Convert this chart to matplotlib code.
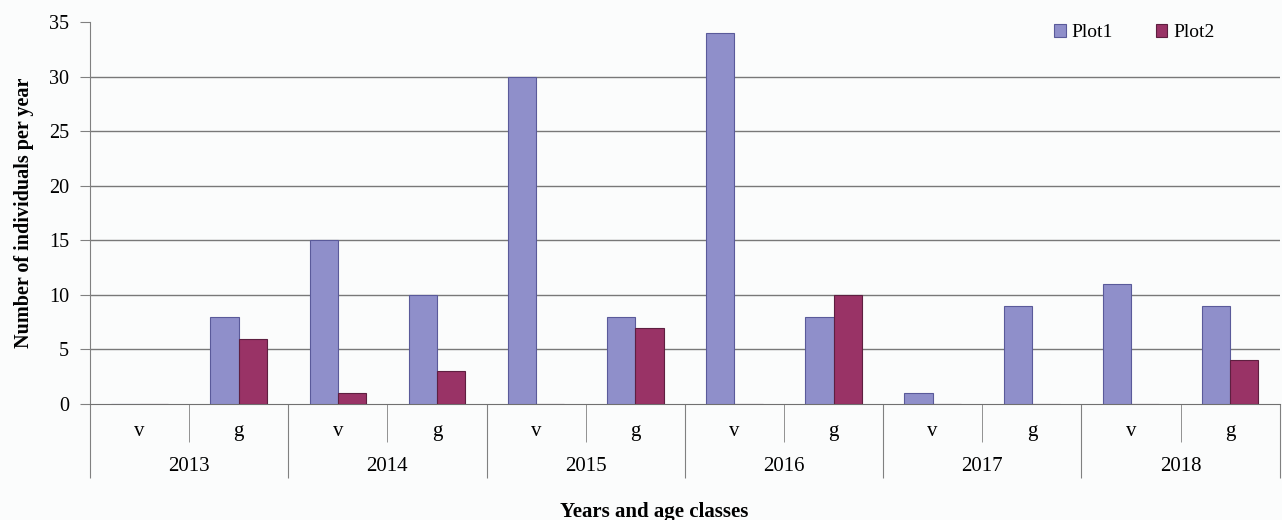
import numpy as np
import matplotlib.pyplot as plt
import matplotlib.transforms as mtransforms

# Counts per year and age class (v / g) for the two plots
years = ["2013", "2014", "2015", "2016", "2017", "2018"]
age_classes = ["v", "g"]
plot1 = [0, 8, 15, 10, 30, 8, 34, 8, 1, 9, 11, 9]
plot2 = [0, 6, 1, 3, 0, 7, 0, 10, 0, 0, 0, 4]

plt.rcParams["font.family"] = ["Liberation Serif", "DejaVu Serif"]

fig = plt.figure(figsize=(12.82, 5.2), dpi=100)
fig.patch.set_facecolor("#fbfcfc")
ax = fig.add_axes([0.0702, 0.223, 0.928, 0.7346])
ax.set_facecolor("#fbfcfc")

x = np.arange(len(plot1))
w = 1 / 3.5  # Excel-like 150% gap width

ax.bar(x - w / 2, plot1, w, color="#8f8fca", edgecolor="#5a5a9a", linewidth=0.8, label="Plot1", zorder=3)
ax.bar(x + w / 2, plot2, w, color="#993366", edgecolor="#5e1f40", linewidth=0.8, label="Plot2", zorder=3)

ax.set_xlim(-0.5, len(x) - 0.5)
ax.set_ylim(0, 35)
ax.set_yticks(range(0, 36, 5))
ax.tick_params(axis="y", labelsize=14.5, length=7, color="#808080", pad=8)
for v in range(5, 35, 5):
    ax.axhline(v, color="#787878", linewidth=1, zorder=1)

for s in ["top", "right"]:
    ax.spines[s].set_visible(False)
ax.spines["left"].set_color("#808080")
ax.spines["bottom"].set_color("#707070")

# Two-level category axis: dividers drawn as long ticks
ax.set_xticks(np.arange(-0.5, len(x), 2))
ax.set_xticks(np.arange(0.5, len(x), 2), minor=True)
ax.tick_params(axis="x", which="major", length=53, color="#808080", labelbottom=False)
ax.tick_params(axis="x", which="minor", length=27, color="#808080", labelbottom=False)

trans = mtransforms.blended_transform_factory(ax.transData, ax.transAxes)
for i in x:
    ax.text(i, -0.073, age_classes[i % 2], transform=trans, ha="center", va="center", fontsize=15)
for j, yr in enumerate(years):
    ax.text(2 * j + 0.5, -0.163, yr, transform=trans, ha="center", va="center", fontsize=15)

ax.set_ylabel("Number of individuals per year", fontsize=14.5, fontweight="bold", labelpad=11)
ax.text(0.474, -0.283, "Years and age classes", transform=ax.transAxes, ha="center", va="center",
        fontsize=15, fontweight="bold")

ax.legend(loc="upper right", bbox_to_anchor=(0.96, 1.04), ncol=2, frameon=False, fontsize=14,
          handlelength=0.6, handleheight=0.6, handletextpad=0.3, columnspacing=2.2)

fig.savefig("out.png", dpi=100, facecolor=fig.get_facecolor())
